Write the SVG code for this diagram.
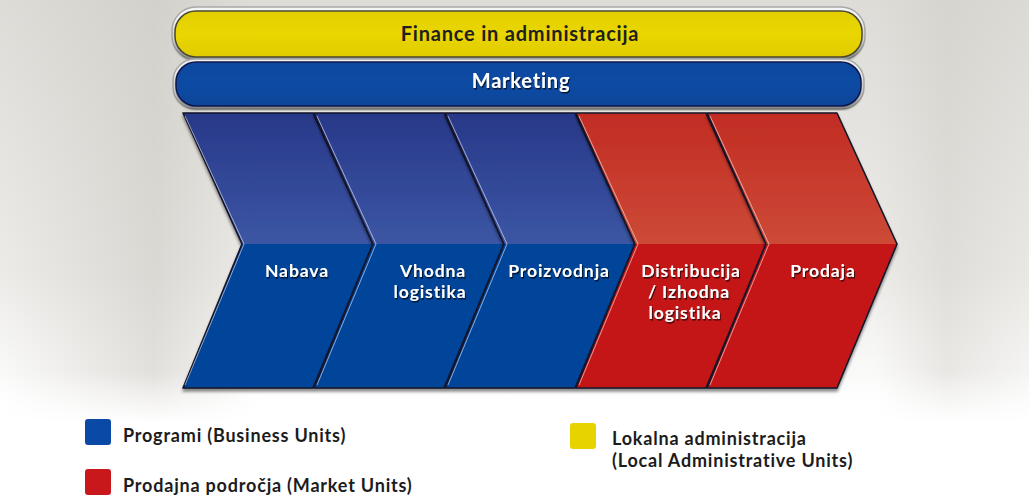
<svg xmlns="http://www.w3.org/2000/svg" width="1029" height="497" viewBox="0 0 1029 497">
<defs>
<linearGradient id="bg" x1="0" y1="0" x2="0" y2="1">
<stop offset="0" stop-color="#dedcd7"/>
<stop offset="0.55" stop-color="#ecebe8"/>
<stop offset="0.82" stop-color="#ffffff"/>
<stop offset="1" stop-color="#ffffff"/>
</linearGradient>
<linearGradient id="bgl" x1="0" y1="0" x2="1" y2="0">
<stop offset="0" stop-color="#c9c6bf" stop-opacity="0.0"/>
<stop offset="0.15" stop-color="#c9c6bf" stop-opacity="0.5"/>
<stop offset="0.25" stop-color="#c9c6bf" stop-opacity="0.0"/>
<stop offset="0.85" stop-color="#c9c6bf" stop-opacity="0.0"/>
<stop offset="0.92" stop-color="#c9c6bf" stop-opacity="0.35"/>
<stop offset="1" stop-color="#c9c6bf" stop-opacity="0.1"/>
</linearGradient>
<linearGradient id="bgfade" x1="0" y1="0" x2="0" y2="1">
<stop offset="0" stop-color="#fff" stop-opacity="0"/>
<stop offset="0.75" stop-color="#fff" stop-opacity="0"/>
<stop offset="0.85" stop-color="#fff" stop-opacity="1"/>
</linearGradient>
<linearGradient id="blueTop" x1="0" y1="0" x2="0" y2="1">
<stop offset="0" stop-color="#283889"/>
<stop offset="1" stop-color="#3c56a4"/>
</linearGradient>
<linearGradient id="redTop" x1="0" y1="0" x2="0" y2="1">
<stop offset="0" stop-color="#c22c24"/>
<stop offset="1" stop-color="#cc4a36"/>
</linearGradient>
<linearGradient id="yel" x1="0" y1="0" x2="0" y2="1">
<stop offset="0" stop-color="#e3cf00"/>
<stop offset="0.5" stop-color="#ead600"/>
<stop offset="1" stop-color="#e0cb00"/>
</linearGradient>
<linearGradient id="blu" x1="0" y1="0" x2="0" y2="1">
<stop offset="0" stop-color="#0b48a0"/>
<stop offset="0.5" stop-color="#0b4ca4"/>
<stop offset="1" stop-color="#0a4398"/>
</linearGradient>
<filter id="ts" x="-10%" y="-30%" width="120%" height="160%">
<feDropShadow dx="1" dy="1.5" stdDeviation="0.7" flood-color="#000" flood-opacity="0.7"/>
</filter>
<filter id="sh" x="-5%" y="-5%" width="110%" height="115%">
<feDropShadow dx="0" dy="3" stdDeviation="1.5" flood-color="#000" flood-opacity="0.45"/>
</filter>
</defs>
<style>
.lbl{font-family:Lato,"Open Sans","DejaVu Sans",sans-serif;font-weight:700;font-size:17.5px;fill:#ffffff;text-anchor:middle;letter-spacing:0.9px;filter:url(#ts)}
.bar{font-family:Lato,"Open Sans","DejaVu Sans",sans-serif;font-weight:700;font-size:20px;text-anchor:middle;letter-spacing:0.8px}
.leg{font-family:Lato,"Open Sans","DejaVu Sans",sans-serif;font-weight:700;font-size:18px;fill:#1c1c1c;letter-spacing:0.8px}
.edge{fill:none;stroke:#15152a;stroke-width:1.6;stroke-linejoin:round}
.hl{fill:none;stroke:#ffffff;stroke-opacity:0.55;stroke-width:1;stroke-linejoin:round}
.blow{fill:#01449a}
.rlow{fill:#c41719}
</style>
<rect x="0" y="0" width="1029" height="497" fill="url(#bg)"/>
<rect x="0" y="0" width="1029" height="497" fill="url(#bgl)"/>
<rect x="0" y="0" width="1029" height="497" fill="url(#bgfade)"/>

<g id="finance">
<rect x="172" y="7" width="693" height="53" rx="24" fill="#f4f4f4" stroke="#a8a8a8" stroke-width="1.5"/>
<rect x="175" y="11" width="687" height="46" rx="21" fill="url(#yel)" stroke="#4a4a30" stroke-width="1.5" filter="url(#sh)"/>
<text class="bar" x="520" y="41" fill="#1f1f1f">Finance in administracija</text>
</g>

<g id="marketing">
<rect x="173" y="59" width="691" height="50" rx="22" fill="#eeeeee" stroke="#a8a8a8" stroke-width="1.5"/>
<rect x="176" y="62" width="685" height="44" rx="20" fill="url(#blu)" stroke="#10184a" stroke-width="1.5" filter="url(#sh)"/>
<text class="bar" x="521" y="88" fill="#ffffff" filter="url(#ts)">Marketing</text>
</g>

<g id="nabava" filter="url(#sh)">
<path class="blow" d="M183,113 L313,113 L373,244 L313,388 L183,388 L242,244 Z"/>
<path fill="url(#blueTop)" d="M183,113 L313,113 L373,244 L242,244 Z"/>
<path class="edge" d="M183,113 L313,113 L373,244 L313,388 L183,388 L242,244 Z"/>
<path class="hl" d="M185,116 L244,244 L185,385"/>
<text class="lbl" x="297" y="277">Nabava</text>
</g>

<g id="vhodna" filter="url(#sh)">
<path class="blow" d="M314,113 L444,113 L504,244 L444,388 L314,388 L373,244 Z"/>
<path fill="url(#blueTop)" d="M314,113 L444,113 L504,244 L373,244 Z"/>
<path class="edge" d="M314,113 L444,113 L504,244 L444,388 L314,388 L373,244 Z"/>
<path class="hl" d="M317,116 L376,244 L317,385"/>
<text class="lbl" x="433" y="277"><tspan x="433">Vhodna</tspan><tspan x="430" dy="21">logistika</tspan></text>
</g>

<g id="proizvodnja" filter="url(#sh)">
<path class="blow" d="M445,113 L575,113 L635,244 L575,388 L445,388 L504,244 Z"/>
<path fill="url(#blueTop)" d="M445,113 L575,113 L635,244 L504,244 Z"/>
<path class="edge" d="M445,113 L575,113 L635,244 L575,388 L445,388 L504,244 Z"/>
<path class="hl" d="M448,116 L507,244 L448,385"/>
<text class="lbl" x="559" y="277">Proizvodnja</text>
</g>

<g id="distribucija" filter="url(#sh)">
<path class="rlow" d="M576,113 L706,113 L766,244 L706,388 L576,388 L635,244 Z"/>
<path fill="url(#redTop)" d="M576,113 L706,113 L766,244 L635,244 Z"/>
<path class="edge" d="M576,113 L706,113 L766,244 L706,388 L576,388 L635,244 Z"/>
<path class="hl" d="M579,116 L638,244 L579,385"/>
<text class="lbl" x="691" y="277"><tspan x="691">Distribucija</tspan><tspan x="689" dy="21">/ Izhodna</tspan><tspan x="685" dy="21">logistika</tspan></text>
</g>

<g id="prodaja" filter="url(#sh)">
<path class="rlow" d="M707,113 L837,113 L897,244 L837,388 L707,388 L766,244 Z"/>
<path fill="url(#redTop)" d="M707,113 L837,113 L897,244 L766,244 Z"/>
<path class="edge" d="M707,113 L837,113 L897,244 L837,388 L707,388 L766,244 Z"/>
<path class="hl" d="M710,116 L769,244 L710,385"/>
<text class="lbl" x="823" y="277">Prodaja</text>
</g>

<g id="connectors"></g>

<g id="legend-programi">
<rect x="85" y="419" width="26" height="26" rx="3" fill="#0a4aa6"/>
<text class="leg" x="123" y="442">Programi (Business Units)</text>
</g>
<g id="legend-prodajna">
<rect x="85" y="469" width="26" height="26" rx="3" fill="#c8181c"/>
<text class="leg" x="123" y="492">Prodajna področja (Market Units)</text>
</g>
<g id="legend-lokalna">
<rect x="570" y="423" width="26" height="26" rx="3" fill="#e6d300"/>
<text class="leg" x="612" y="445"><tspan x="612">Lokalna administracija</tspan><tspan x="612" dy="21.7">(Local Administrative Units)</tspan></text>
</g>
</svg>
